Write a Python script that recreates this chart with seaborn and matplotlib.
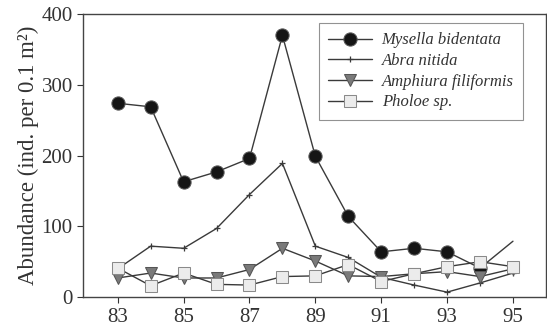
import seaborn as sns
import pandas as pd
import matplotlib.pyplot as plt

years = list(range(83, 96))
mysella = [274, 269, 163, 177, 196, 370, 199, 114, 64, 69, 64, 41, 79]
abra = [40, 72, 69, 97, 145, 189, 72, 56, 28, 17, 7, 20, 34]
amphiura = [27, 34, 27, 27, 39, 69, 51, 30, 29, 33, 36, 29, 40]
pholoe = [41, 16, 34, 18, 17, 29, 30, 46, 22, 33, 43, 50, 43]


def main():
    sns.set_style('ticks')
    plt.rcParams['font.family'] = ['Liberation Serif', 'DejaVu Serif']

    df = pd.DataFrame({'year': years, 'mysella': mysella, 'abra': abra,
                       'amphiura': amphiura, 'pholoe': pholoe})

    fig = plt.figure(figsize=(5.47, 3.29), dpi=100)
    ax = fig.add_axes([0.152, 0.097, 0.846, 0.86])

    line_kw = dict(color='#3a3a3a', linewidth=1.0)
    # last Mysella point is drawn without a marker in the original
    sns.lineplot(data=df, x='year', y='mysella', ax=ax, marker='o', ms=9.5,
                 markerfacecolor='#151515', markeredgecolor='#555555',
                 markevery=slice(0, 12), label='Mysella bidentata', **line_kw)
    sns.lineplot(data=df, x='year', y='abra', ax=ax, marker='+', ms=5,
                 markeredgewidth=0.9, markeredgecolor='#3a3a3a',
                 label='Abra nitida', **line_kw)
    sns.lineplot(data=df, x='year', y='amphiura', ax=ax, marker='v', ms=9,
                 markerfacecolor='#7a7a7a', markeredgecolor='#555555',
                 label='Amphiura filiformis', **line_kw)
    sns.lineplot(data=df, x='year', y='pholoe', ax=ax, marker='s', ms=8.5,
                 markerfacecolor='#ececec', markeredgecolor='#8a8a8a',
                 label='Pholoe sp.', **line_kw)

    ax.set_xlim(81.95, 96)
    ax.set_ylim(0, 400)
    ax.set_xticks(range(83, 96, 2))
    ax.set_yticks([0, 100, 200, 300, 400])
    ax.set_xlabel('')
    ax.set_ylabel('Abundance (ind. per 0.1 m²)', fontsize=16.5,
                  color='#333333', labelpad=2)
    ax.tick_params(labelsize=15, colors='#333333', direction='out', length=4)
    for s in ax.spines.values():
        s.set_color('#444444')
        s.set_linewidth(1.0)

    leg = ax.legend(loc='upper right', bbox_to_anchor=(0.95, 0.968),
                    prop={'style': 'italic', 'size': 12}, frameon=True,
                    fancybox=False, edgecolor='#777777', handlelength=2.6,
                    labelspacing=0.28, borderpad=0.55, borderaxespad=0,
                    handletextpad=0.6)
    leg.get_frame().set_linewidth(0.8)
    for t in leg.get_texts():
        t.set_color('#333333')

    fig.savefig('out.png', dpi=100)


if __name__ == "__main__":
    main()
